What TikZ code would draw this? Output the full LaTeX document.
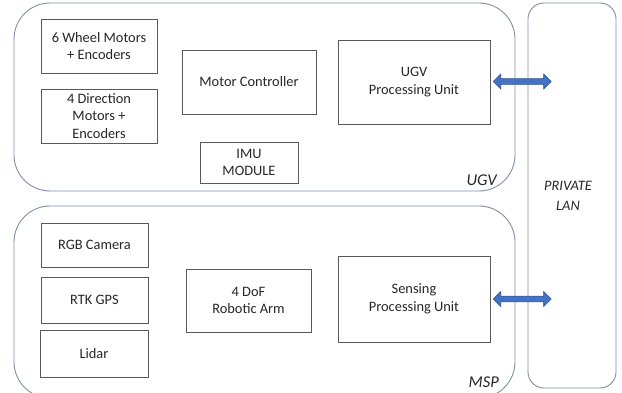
\documentclass[tikz,border=0pt]{standalone}
\usepackage{fontspec}
\setmainfont{Carlito}
\usetikzlibrary{shapes.arrows,calc}
\definecolor{boxline}{HTML}{5A5A5A}
\definecolor{groupline}{HTML}{8090A8}
\definecolor{linkfill}{HTML}{4472C4}
\definecolor{linkline}{HTML}{2F528F}
\begin{document}
\begin{tikzpicture}[x=1pt,y=-1pt,
  unit/.style={draw=boxline, line width=0.8pt, align=center, inner sep=0pt,
    font=\fontsize{14.4}{17.6}\selectfont, text=black!85},
  group/.style={draw=groupline, line width=0.9pt},
  grouplabel/.style={font=\fontsize{16.5}{18}\selectfont\itshape, text=black!85, inner sep=0pt},
  link/.style={double arrow, draw=linkline, fill=linkfill, line width=0.6pt,
    minimum width=15pt, inner sep=2.6pt, double arrow head extend=4.5pt,
    anchor=center}
]
\useasboundingbox (0,0) rectangle (622,393);

% enclosing groups
\draw[group, rounded corners=36pt] (14,3) rectangle (515,191);
\draw[group, rounded corners=36pt] (14,206) rectangle (515,398);
\draw[group, rounded corners=16pt] (528,3) rectangle (616,388);

% UGV components
\node[unit, minimum width=116pt, minimum height=54pt] (wheel) at (99,46) {6 Wheel Motors\\+ Encoders};
\node[unit, minimum width=116pt, minimum height=54pt] (dir) at (99,116) {4 Direction\\Motors +\\Encoders};
\node[unit, minimum width=134pt, minimum height=64pt] (mc) at (249,82) {Motor Controller};
\node[unit, minimum width=98pt, minimum height=41pt] (imu) at (249,162.5) {IMU\\MODULE};
\node[unit, minimum width=152pt, minimum height=84pt] (ugvpu) at (414,82) {UGV\\Processing Unit};

% MSP components
\node[unit, minimum width=107pt, minimum height=44pt] (rgb) at (94.5,245) {RGB Camera};
\node[unit, minimum width=107pt, minimum height=46pt] (gps) at (94.5,300) {RTK GPS};
\node[unit, minimum width=108pt, minimum height=47pt] (lidar) at (94,353.5) {Lidar};
\node[unit, minimum width=125pt, minimum height=63pt] (arm) at (248.5,300.5) {4 DoF\\Robotic Arm};
\node[unit, minimum width=152pt, minimum height=86pt] (spu) at (414,299) {Sensing\\Processing Unit};

% group labels
\node[grouplabel, anchor=east] (ugvlbl) at (497,180) {UGV};
\node[grouplabel, anchor=east] (msplbl) at (499,382) {MSP};
\node[font=\fontsize{14.4}{20}\selectfont\itshape, text=black!85, align=center, inner sep=0pt] (lanlbl) at (568,196) {PRIVATE\\LAN};

% links to the private LAN
\coordinate (lan1) at (551,81);
\coordinate (lan2) at (551,299);
\path (ugvpu.east) ++(3pt,0) coordinate (a1);
\path (spu.east) ++(3pt,0) coordinate (a2);
\node[link, minimum height=58pt] (link1) at ($(a1)!0.5!(lan1)$) {};
\node[link, minimum height=58pt] (link2) at ($(a2)!0.5!(lan2)$) {};
\end{tikzpicture}
\end{document}
